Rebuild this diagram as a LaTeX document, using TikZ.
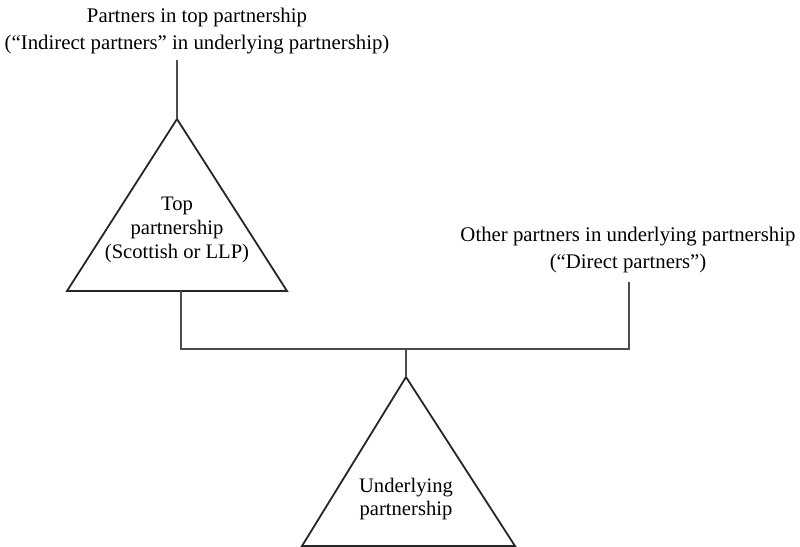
\documentclass[tikz,border=0pt]{standalone}
\usepackage{fontspec}
\setmainfont{Liberation Serif}
\usetikzlibrary{positioning}

\begin{document}
\begin{tikzpicture}[x=0.5pt, y=-0.5pt,
    every node/.style={font=\fontsize{10.4}{13.7}\selectfont, align=center, inner sep=0pt},
    inlbl/.style={font=\fontsize{10.3}{11.8}\selectfont},
    tri/.style={draw=black!85, line width=0.9pt, line join=miter},
    link/.style={draw=black!70, line width=0.7pt},
  ]
  \useasboundingbox (0,0) rectangle (800,547);

  % ── Partners (text) ───────────────────────────────────
  \node (ptop)   at (197,31)  {Partners in top partnership\\(``Indirect partners'' in underlying partnership)};
  \node (pother) at (628,250) {Other partners in underlying partnership\\(``Direct partners'')};

  % ── Top partnership ───────────────────────────────────
  \coordinate (topapex) at (177,119);
  \coordinate (topbase) at (181,291);
  \draw[tri] (topapex) -- (287,291) -- (67,291) -- cycle;
  \node[inlbl] (toplbl) at (177,230) {Top\\partnership\\(Scottish or LLP)};

  % ── Underlying partnership ────────────────────────────
  \coordinate (undapex) at (406,377);
  \draw[tri] (undapex) -- (515,546) -- (302,546) -- cycle;
  \node[inlbl] (undlbl) at (406,499) {Underlying\\partnership};

  % ── Connectors ────────────────────────────────────────
  \coordinate (joinL) at (181,349);
  \coordinate (joinM) at (406,349);
  \coordinate (joinR) at (629,349);
  \draw[link] ([yshift=-2.5pt]ptop.south -| topapex) -- (topapex);
  \draw[link] (topbase) -- (joinL) -- (joinR) -- ([yshift=-4pt]pother.south -| joinR);
  \draw[link] (joinM) -- (undapex);

\end{tikzpicture}
\end{document}
